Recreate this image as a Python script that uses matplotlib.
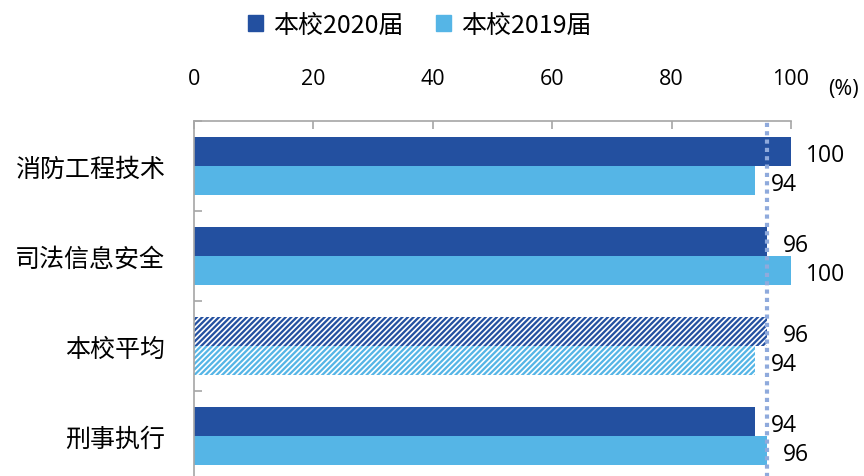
import numpy as np
import matplotlib.pyplot as plt
from matplotlib.patches import Patch

plt.rcParams['font.family'] = ['Noto Sans CJK SC', 'DejaVu Sans']
plt.rcParams['hatch.linewidth'] = 1.2

categories = ["消防工程技术", "司法信息安全", "本校平均", "刑事执行"]
vals_2020 = [100, 96, 96, 94]
vals_2019 = [94, 100, 94, 96]
series_names = ["本校2020届", "本校2019届"]
avg_line = 96
xticks = [0, 20, 40, 60, 80, 100]

dark = "#2350A0"
light = "#55B5E6"
grey = "#A6A6A6"
num_font = ['Open Sans', 'DejaVu Sans']

fig = plt.figure(figsize=(8.64, 4.77), dpi=100)
ax = fig.add_axes([0.2245, -0.0105, 0.691, 0.7547])

y = np.arange(len(categories))
h = 0.322
hatch_idx = categories.index("本校平均")

for i, (a, b) in enumerate(zip(vals_2020, vals_2019)):
    hat = "//////" if i == hatch_idx else None
    ax.barh(y[i] - h / 2, a, height=h, color=dark, hatch=hat,
            edgecolor="white" if hat else dark, linewidth=0)
    ax.barh(y[i] + h / 2, b, height=h, color=light, hatch=hat,
            edgecolor="white" if hat else light, linewidth=0)
    ax.annotate(str(a), (a, y[i] - h / 2), xytext=(11, -2.5), textcoords="offset points",
                ha="left", va="center", fontsize=16.5, family=num_font)
    ax.annotate(str(b), (b, y[i] + h / 2), xytext=(11, -2.5), textcoords="offset points",
                ha="left", va="center", fontsize=16.5, family=num_font)

ax.axvline(avg_line, color="#8FAADC", linewidth=3, linestyle=(0, (1, 1)), zorder=3)

ax.set_xlim(0, 100)
ax.set_ylim(len(categories) - 0.5, -0.5)
ax.xaxis.tick_top()
ax.set_xticks(xticks)
ax.set_xticklabels([str(t) for t in xticks], fontsize=15.5, family=num_font)
ax.tick_params(axis="x", direction="in", length=6, color=grey, width=1.2, pad=23)

ax.set_yticks(y)
ax.set_yticklabels(categories, fontsize=18)
ax.tick_params(axis="y", which="major", length=0, pad=21)
ax.set_yticks(np.arange(-0.5, len(categories) + 0.5, 1), minor=True)
ax.tick_params(axis="y", which="minor", direction="in", length=6, color=grey, width=1.2)

for s in ["right", "bottom"]:
    ax.spines[s].set_visible(False)
for s in ["top", "left"]:
    ax.spines[s].set_color(grey)
    ax.spines[s].set_linewidth(1.2)

fig.text(0.976, 0.812, "(%)", fontsize=15.5, ha="center", va="center", family=num_font)

handles = [Patch(color=dark), Patch(color=light)]
fig.legend(handles, series_names, loc="center", bbox_to_anchor=(0.486, 0.945), ncol=2,
           frameon=False, fontsize=18, handlelength=0.6, handleheight=0.6,
           handletextpad=0.4, columnspacing=1.3)

fig.savefig("out.png", dpi=100)
